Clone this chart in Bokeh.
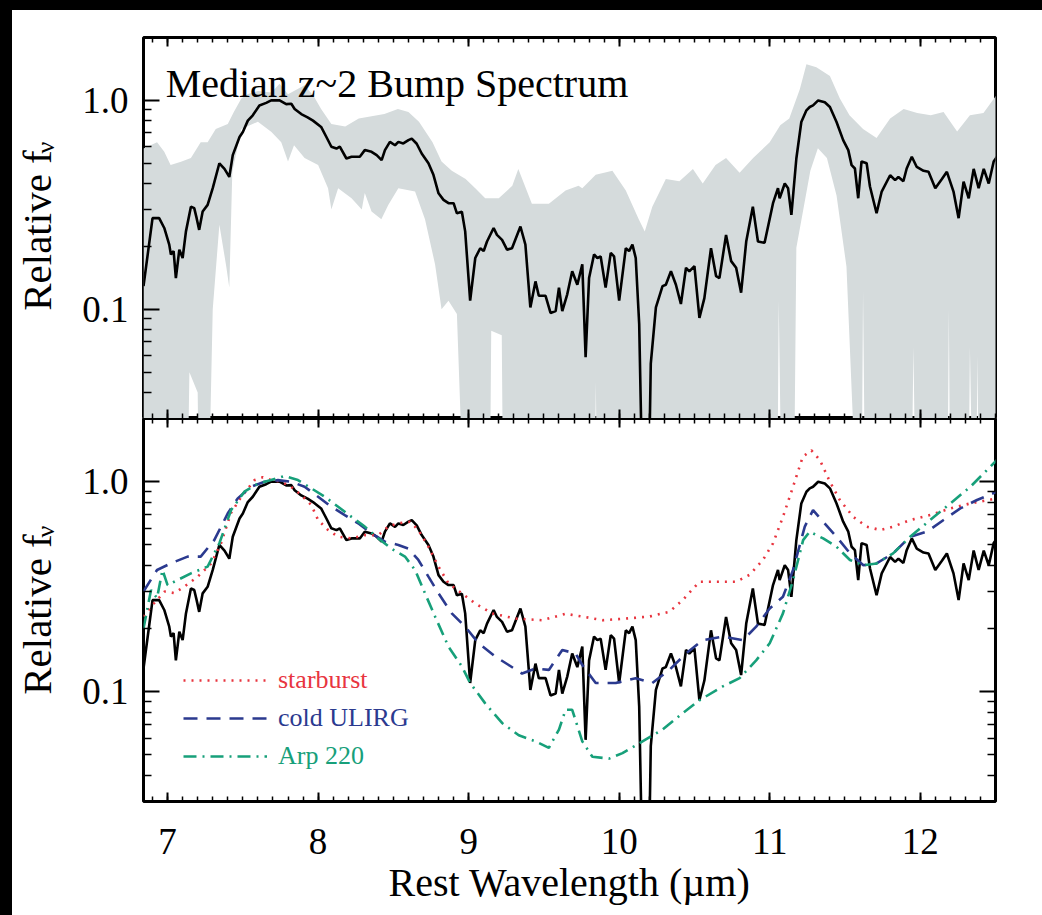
import numpy as np
from bokeh.plotting import figure
from bokeh.models import (Range1d, FixedTicker, PrintfTickFormatter, LinearAxis, LogAxis,
                          Label, Legend, LegendItem, Spacer)
from bokeh.layouts import column, row
from bokeh.embed import file_html
from bokeh.resources import INLINE

FONT = "Liberation Serif"

# ---------------- data ----------------
spec_x = [6.84, 6.90, 6.944, 6.978, 7.011, 7.022, 7.040, 7.055, 7.078, 7.10, 7.122, 7.155, 7.177,
          7.193, 7.21, 7.233, 7.266, 7.30, 7.344, 7.378, 7.41, 7.433, 7.478, 7.50, 7.533, 7.566,
          7.61, 7.655, 7.688, 7.744, 7.788, 7.822, 7.844, 7.888, 7.93, 7.966, 8.02, 8.055, 8.088,
          8.122, 8.144, 8.188, 8.222, 8.277, 8.31, 8.355, 8.389, 8.422, 8.444, 8.477, 8.511, 8.533,
          8.566, 8.60, 8.622, 8.655, 8.688, 8.733, 8.766, 8.80, 8.833, 8.866, 8.90, 8.922, 8.955,
          8.977, 9.01, 9.044, 9.077, 9.10, 9.122, 9.166, 9.188, 9.222, 9.255, 9.288, 9.344, 9.377,
          9.41, 9.444, 9.466, 9.511, 9.544, 9.578, 9.60, 9.622, 9.655, 9.688, 9.722, 9.755, 9.777,
          9.80, 9.833, 9.855, 9.877, 9.91, 9.944, 9.966, 10.0, 10.044, 10.066, 10.088, 10.11,
          10.133, 10.15, 10.20, 10.21, 10.244, 10.288, 10.31, 10.344, 10.377, 10.41, 10.444,
          10.466, 10.50, 10.533, 10.566, 10.61, 10.644, 10.666, 10.71, 10.744, 10.777, 10.81,
          10.844, 10.888, 10.922, 10.966, 11.022, 11.055, 11.066, 11.10, 11.122, 11.144, 11.177,
          11.21, 11.244, 11.266, 11.288, 11.322, 11.366, 11.40, 11.444, 11.488, 11.522, 11.544,
          11.566, 11.588, 11.61, 11.644, 11.666, 11.71, 11.744, 11.80, 11.833, 11.855, 11.888,
          11.91, 11.944, 11.977, 12.022, 12.055, 12.10, 12.144, 12.177, 12.221, 12.255, 12.288,
          12.322, 12.355, 12.388, 12.422, 12.455, 12.488, 12.51]
spec_y = [0.129, 0.273, 0.273, 0.245, 0.204, 0.183, 0.19, 0.141, 0.193, 0.176, 0.236, 0.31, 0.305,
          0.273, 0.24, 0.294, 0.316, 0.38, 0.50, 0.47, 0.43, 0.547, 0.668, 0.706, 0.80, 0.848,
          0.946, 0.973, 1.0, 1.0, 0.96, 0.963, 0.91, 0.86, 0.83, 0.80, 0.746, 0.668, 0.60,
          0.588, 0.60, 0.527, 0.537, 0.537, 0.578, 0.567, 0.547, 0.518, 0.578, 0.633, 0.61, 0.633,
          0.622, 0.645, 0.656, 0.62, 0.557, 0.50, 0.44, 0.359, 0.334, 0.322, 0.322, 0.288, 0.293,
          0.236, 0.11, 0.176, 0.196, 0.19, 0.211, 0.245, 0.227, 0.215, 0.193, 0.196, 0.249, 0.204,
          0.102, 0.136, 0.116, 0.116, 0.096, 0.098, 0.127, 0.098, 0.118, 0.152, 0.131, 0.164, 0.059,
          0.141, 0.183, 0.176, 0.179, 0.127, 0.186, 0.179, 0.11, 0.196, 0.19, 0.204, 0.176,
          0.085, 0.02, 0.02, 0.055, 0.102, 0.129, 0.131, 0.152, 0.131, 0.106, 0.158,
          0.152, 0.161, 0.091, 0.113, 0.196, 0.144, 0.141, 0.227, 0.17, 0.158, 0.12,
          0.211, 0.31, 0.211, 0.208, 0.322, 0.38, 0.34, 0.40, 0.38, 0.283, 0.527,
          0.788, 0.896, 0.93, 0.946, 1.0, 0.98, 0.93, 0.788, 0.645, 0.578, 0.49,
          0.472, 0.34, 0.51, 0.50, 0.387, 0.288, 0.366, 0.438, 0.415, 0.43, 0.41,
          0.472, 0.537, 0.48, 0.46, 0.455, 0.38, 0.42, 0.455, 0.366, 0.273, 0.408,
          0.34, 0.47, 0.38, 0.47, 0.40, 0.51, 0.537]

band_hi_x = [6.84, 6.93, 6.978, 7.02, 7.089, 7.155, 7.22, 7.266, 7.32, 7.40, 7.44, 7.49, 7.53, 7.60,
             7.69, 7.744, 7.80, 7.91, 7.97, 8.02, 8.088, 8.18, 8.27, 8.355, 8.44, 8.53, 8.60, 8.67,
             8.76, 8.82, 8.888, 8.98, 9.044, 9.11, 9.20, 9.29, 9.33, 9.42, 9.533, 9.644, 9.73,
             9.755, 9.844, 9.955, 10.044, 10.13, 10.17, 10.22, 10.31, 10.40, 10.49, 10.555, 10.64,
             10.71, 10.80, 10.89, 11.0, 11.07, 11.13, 11.20, 11.244, 11.31, 11.40, 11.466, 11.53,
             11.62, 11.71, 11.80, 11.89, 11.98, 12.07, 12.155, 12.245, 12.33, 12.42, 12.51]
band_hi_y = [0.589, 0.63, 0.567, 0.49, 0.508, 0.53, 0.63, 0.63, 0.73, 0.77, 0.88, 1.02, 1.07, 1.11,
             1.09, 1.2, 1.07, 1.18, 1.05, 0.91, 0.77, 0.75, 0.82, 0.84, 0.86, 0.91, 0.88, 0.79,
             0.63, 0.51, 0.46, 0.42, 0.38, 0.34, 0.34, 0.39, 0.47, 0.32, 0.32, 0.37, 0.39,
             0.38, 0.44, 0.46, 0.37, 0.27, 0.236, 0.31, 0.42, 0.41, 0.47, 0.40, 0.49,
             0.53, 0.45, 0.53, 0.63, 0.76, 0.82, 1.13, 1.49, 1.44, 1.31, 1.02, 0.85,
             0.73, 0.66, 0.82, 0.91, 0.87, 0.85, 0.88, 0.71, 0.85, 0.87, 1.07]

band_lo_x = [6.84, 7.13, 7.145, 7.20, 7.21, 7.27, 7.30, 7.344, 7.39, 7.41, 7.43, 7.49, 7.60, 7.69,
             7.755, 7.80, 7.84, 7.91, 8.0, 8.066, 8.088, 8.133, 8.222, 8.29, 8.31, 8.355, 8.42,
             8.466, 8.533, 8.644, 8.71, 8.777, 8.82, 8.866, 8.922, 8.97, 9.14, 9.15, 9.22, 9.23,
             9.835, 9.845, 9.855, 11.05, 11.06, 11.08, 11.16, 11.177, 11.27, 11.32, 11.38, 11.444,
             11.51, 11.58, 11.61, 11.62, 11.635, 11.94, 11.955, 11.97, 12.18, 12.19, 12.20, 12.32,
             12.33, 12.35, 12.37, 12.38, 12.39, 12.51]
band_lo_y = [0.01, 0.01, 0.05, 0.04, 0.01, 0.01, 0.10, 0.254, 0.16, 0.127, 0.455, 0.73, 0.79, 0.706,
             0.63, 0.51, 0.61, 0.53, 0.49, 0.38, 0.30, 0.38, 0.34, 0.30, 0.36, 0.294, 0.27,
             0.316, 0.38, 0.366, 0.27, 0.164, 0.10, 0.11, 0.095, 0.01, 0.01, 0.079, 0.075, 0.01,
             0.01, 0.045, 0.01, 0.01, 0.11, 0.01, 0.01, 0.197, 0.46, 0.59, 0.53, 0.35,
             0.16, 0.01, 0.01, 0.122, 0.01, 0.01, 0.066, 0.01, 0.01, 0.10, 0.01, 0.01,
             0.066, 0.01, 0.01, 0.06, 0.01, 0.01]

starburst_x = [6.84, 6.89, 6.98, 7.044, 7.11, 7.20, 7.29, 7.355, 7.42, 7.49, 7.578, 7.633, 7.69,
               7.755, 7.82, 7.888, 7.955, 8.0, 8.066, 8.133, 8.222, 8.31, 8.40, 8.466, 8.533, 8.61,
               8.666, 8.733, 8.80, 8.866, 8.955, 9.044, 9.155, 9.31, 9.488, 9.644, 9.755, 9.89,
               10.044, 10.20, 10.333, 10.422, 10.533, 10.644, 10.777, 10.866, 10.955, 11.022,
               11.088, 11.155, 11.22, 11.277, 11.333, 11.40, 11.466, 11.555, 11.644, 11.733, 11.82,
               11.933, 12.066, 12.20, 12.333, 12.51]
starburst_y = [0.228, 0.254, 0.30, 0.295, 0.316, 0.353, 0.408, 0.509, 0.707, 0.848, 1.018, 1.05, 1.018,
               1.0, 0.946, 0.864, 0.774, 0.657, 0.589, 0.547, 0.537, 0.557, 0.557, 0.611, 0.634, 0.645,
               0.589, 0.49, 0.394, 0.328, 0.294, 0.263, 0.236, 0.223, 0.219, 0.235, 0.228, 0.219,
               0.223, 0.228, 0.24, 0.273, 0.334, 0.334, 0.334, 0.36, 0.424, 0.509,
               0.68, 0.946, 1.316, 1.41, 1.27, 1.0, 0.818, 0.68, 0.611, 0.589, 0.611,
               0.657, 0.694, 0.746, 0.788, 0.833]

ulirg_x = [6.84, 6.93, 7.02, 7.133, 7.22, 7.31, 7.40, 7.466, 7.555, 7.644, 7.733, 7.822, 7.91, 8.0,
           8.088, 8.177, 8.266, 8.355, 8.444, 8.533, 8.60, 8.666, 8.733, 8.80, 8.888, 8.977, 9.066,
           9.177, 9.266, 9.355, 9.444, 9.533, 9.622, 9.71, 9.755, 9.844, 9.977, 10.11, 10.22,
           10.333, 10.444, 10.555, 10.688, 10.822, 10.91, 11.0, 11.088, 11.155, 11.233, 11.288,
           11.355, 11.444, 11.533, 11.622, 11.71, 11.82, 11.933, 12.044, 12.155, 12.266, 12.377,
           12.51]
ulirg_y = [0.30, 0.38, 0.408, 0.44, 0.44, 0.527, 0.707, 0.833, 0.946, 1.0, 1.018, 1.0, 0.946, 0.848,
           0.76, 0.694, 0.634, 0.567, 0.518, 0.50, 0.48, 0.424, 0.353, 0.294, 0.236, 0.204, 0.17,
           0.147, 0.134, 0.122, 0.129, 0.127, 0.158, 0.152, 0.134, 0.11, 0.11, 0.116, 0.11,
           0.127, 0.152, 0.176, 0.183, 0.176, 0.204, 0.249, 0.283, 0.38, 0.611, 0.733,
           0.645, 0.547, 0.456, 0.40, 0.408, 0.456, 0.547, 0.578, 0.657, 0.746, 0.818,
           0.896]

arp220_x = [6.84, 6.89, 6.93, 6.966, 7.0, 7.066, 7.155, 7.266, 7.344, 7.422, 7.51, 7.60, 7.688,
            7.777, 7.866, 7.955, 8.044, 8.133, 8.222, 8.31, 8.40, 8.488, 8.577, 8.644, 8.71, 8.777,
            8.866, 8.955, 9.01, 9.11, 9.222, 9.333, 9.444, 9.533, 9.60, 9.644, 9.688, 9.755, 9.822,
            9.933, 10.022, 10.155, 10.288, 10.422, 10.533, 10.688, 10.8, 10.91, 11.0, 11.088,
            11.155, 11.222, 11.266, 11.355, 11.444, 11.533, 11.62, 11.71, 11.82, 11.933, 12.066,
            12.20, 12.333, 12.51]
arp220_y = [0.20, 0.305, 0.279, 0.38, 0.322, 0.34, 0.366, 0.394, 0.509, 0.733, 0.896, 0.98, 1.018,
            1.064, 1.018, 0.93, 0.848, 0.76, 0.68, 0.611, 0.537, 0.48, 0.44, 0.38, 0.294, 0.228,
            0.164, 0.132, 0.11, 0.088, 0.071, 0.062, 0.058, 0.054, 0.066, 0.082, 0.082, 0.058, 0.049,
            0.048, 0.051, 0.058, 0.066, 0.079, 0.091, 0.106, 0.116, 0.141, 0.17, 0.236,
            0.34, 0.527, 0.578, 0.537, 0.49, 0.424, 0.40, 0.408, 0.456, 0.547, 0.657,
            0.788, 0.946, 1.27]

legend_labels = ["starburst", "cold ULIRG", "Arp 220"]
title_text = "Median z~2 Bump Spectrum"
x_label = "Rest Wavelength (\u00b5m)"
y_label = "Relative f"
y_sub = "\u03bd"

X_RANGE = (6.84, 12.5)
Y_RANGE = (0.03, 2.0)
x_major = [7, 8, 9, 10, 11, 12]
x_minor = [round(v, 1) for v in np.arange(6.9, 12.51, 0.1)]
y_major = [0.1, 1.0]
y_minor = [0.04, 0.05, 0.06, 0.07, 0.08, 0.09, 0.2, 0.3, 0.4, 0.5, 0.6, 0.7, 0.8, 0.9, 2.0]

RED = "#e8353f"
NAVY = "#2b3a8f"
GREEN = "#17a07a"
BAND = "#d5dbdc"

STRIP_L = 12   # black strip on the left of the page
STRIP_T = 10   # black strip on top of the page
LAB_W = 60     # column holding the rotated y labels
FIG_W = 1042 - STRIP_L - LAB_W
PAGE_H = 915


def hide_labels(ax):
    ax.major_label_text_color = None
    ax.major_label_text_font_size = "1px"
    ax.major_label_standoff = 0


def style_x(ax, labels):
    ax.ticker = FixedTicker(ticks=x_major, minor_ticks=x_minor)
    ax.major_tick_in = 9
    ax.major_tick_out = 0
    ax.minor_tick_in = 5
    ax.minor_tick_out = 0
    ax.major_tick_line_width = 2
    ax.minor_tick_line_width = 1.5
    ax.major_tick_line_color = "black"
    ax.minor_tick_line_color = "black"
    ax.axis_line_color = None
    if labels:
        ax.major_label_text_font = FONT
        ax.major_label_text_font_size = "37px"
        ax.major_label_text_color = "black"
        ax.major_label_standoff = 27
        ax.axis_label = x_label
        ax.axis_label_text_font = FONT
        ax.axis_label_text_font_size = "40px"
        ax.axis_label_text_font_style = "normal"
        ax.axis_label_text_color = "black"
        ax.axis_label_standoff = 3
    else:
        hide_labels(ax)


def style_y(ax, labels):
    ax.ticker = FixedTicker(ticks=y_major, minor_ticks=y_minor)
    ax.major_tick_in = 16
    ax.major_tick_out = 0
    ax.minor_tick_in = 8
    ax.minor_tick_out = 0
    ax.major_tick_line_width = 2
    ax.minor_tick_line_width = 1.5
    ax.major_tick_line_color = "black"
    ax.minor_tick_line_color = "black"
    ax.axis_line_color = None
    ax.formatter = PrintfTickFormatter(format="%.1f")
    if labels:
        ax.major_label_text_font = FONT
        ax.major_label_text_font_size = "37px"
        ax.major_label_text_color = "black"
        ax.major_label_standoff = 15
    else:
        hide_labels(ax)


def make_fig(height, top, bottom, xlabels, right_ticks):
    p = figure(width=FIG_W, height=height, x_range=Range1d(*X_RANGE), y_range=Range1d(*Y_RANGE),
               y_axis_type="log", output_backend="svg", toolbar_location=None,
               min_border_left=143 - STRIP_L - LAB_W, min_border_right=47, min_border_top=top,
               min_border_bottom=bottom)
    p.grid.visible = False
    p.outline_line_color = "black"
    p.outline_line_width = 3
    p.background_fill_color = "white"
    p.border_fill_color = "white"
    style_x(p.xaxis[0], xlabels)
    style_y(p.yaxis[0], True)
    top_ax = LinearAxis()
    style_x(top_ax, False)
    p.add_layout(top_ax, "above")
    if right_ticks:
        r_ax = LogAxis()
        style_y(r_ax, False)
        p.add_layout(r_ax, "right")
    return p


# ---------------- top panel ----------------
p1 = make_fig(418 - STRIP_T, 37 - STRIP_T, 0, False, False)
p1.patch(band_hi_x + band_lo_x[::-1], band_hi_y + band_lo_y[::-1],
         fill_color=BAND, line_color=None)
p1.line(spec_x, spec_y, line_color="black", line_width=2.6)
p1.add_layout(Label(x=6.987, y=1.208, text=title_text, text_font=FONT, text_font_size="40px",
                    text_baseline="alphabetic", text_align="left", text_color="black"))

# ---------------- bottom panel ----------------
p2 = make_fig(497, 0, 114, True, True)
p2.line(spec_x, spec_y, line_color="black", line_width=2.6)
r_sb = p2.line(starburst_x, starburst_y, line_color=RED, line_width=2.6, line_dash="2 6")
r_cu = p2.line(ulirg_x, ulirg_y, line_color=NAVY, line_width=2.6, line_dash="14 9")
r_ar = p2.line(arp220_x, arp220_y, line_color=GREEN, line_width=2.6, line_dash="13 6 2 6")

for lab, rend, col, ypos in zip(legend_labels, [r_sb, r_cu, r_ar], [RED, NAVY, GREEN],
                                [106, 68, 30]):
    lg = Legend(items=[LegendItem(label=lab, renderers=[rend])], location=(40, ypos),
                glyph_width=84, glyph_height=30, label_height=30, label_standoff=11,
                padding=0, margin=0, spacing=0, border_line_color=None,
                background_fill_alpha=0, label_text_font=FONT, label_text_font_size="26px",
                label_text_color=col)
    p2.add_layout(lg)

# ---------------- column with the rotated y-axis labels (Relative f_nu) ----------------
lab_fig = figure(width=LAB_W, height=PAGE_H - STRIP_T, x_range=Range1d(0, 1), y_range=Range1d(0, 1),
                 output_backend="svg", toolbar_location=None, min_border=0)
lab_fig.axis.visible = False
lab_fig.grid.visible = False
lab_fig.outline_line_color = None
lab_fig.background_fill_color = "white"
lab_fig.border_fill_color = "white"
# (page y of label centre, page y of subscript centre) for the two panels
for main_y, sub_y in [(230, 147), (614, 531)]:
    lab_fig.add_layout(Label(x=24, y=PAGE_H - main_y, x_units="screen", y_units="screen",
                             text=y_label, angle=np.pi / 2, text_align="center",
                             text_baseline="alphabetic", text_font=FONT, text_font_size="41px",
                             text_color="black"))
    lab_fig.add_layout(Label(x=33, y=PAGE_H - sub_y, x_units="screen", y_units="screen",
                             text=y_sub, angle=np.pi / 2, text_align="center",
                             text_baseline="alphabetic", text_font=FONT, text_font_size="26px",
                             text_color="black"))

top_strip = Spacer(width=1042, height=STRIP_T, styles={"background-color": "black"})
left_strip = Spacer(width=STRIP_L, height=PAGE_H - STRIP_T, styles={"background-color": "black"})
layout = column(top_strip,
                row(left_strip, lab_fig, column(p1, p2, spacing=0), spacing=0),
                spacing=0)
open("out.html", "w").write(file_html(layout, INLINE))
